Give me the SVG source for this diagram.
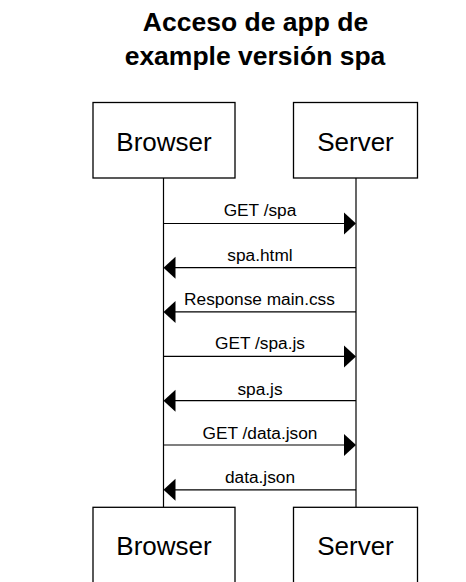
<svg xmlns="http://www.w3.org/2000/svg" width="466" height="582" viewBox="0 0 466 582">
<style>
.actor{fill:#fff;stroke:#000;stroke-width:1.3}
.atext{font-family:"Liberation Sans",Arial,sans-serif;font-size:26px;fill:#000;text-anchor:middle}
.life{stroke:#000;stroke-width:1.2}
.msg{stroke:#000;stroke-width:1.2;fill:none}
.mtext{font-family:"Liberation Sans",Arial,sans-serif;font-size:17.3px;fill:#000;text-anchor:middle}
.title{font-family:"Liberation Sans",Arial,sans-serif;font-size:26.5px;font-weight:bold;fill:#000;text-anchor:middle}
.head{fill:#000}
</style>
<rect width="466" height="582" fill="#fff"/>
<g id="title">
<text class="title" x="255.5" y="30.7">Acceso de app de</text>
<text class="title" x="255" y="65">example versión spa</text>
</g>
<g id="lifelines">
<line class="life" x1="163.5" y1="178" x2="163.5" y2="507"/>
<line class="life" x1="356" y1="178" x2="356" y2="507"/>
</g>
<g id="browser-top">
<rect class="actor" x="93" y="102.5" width="142" height="75.5"/>
<text class="atext" x="164" y="150.7">Browser</text>
</g>
<g id="server-top">
<rect class="actor" x="293.5" y="102.5" width="124" height="75.5"/>
<text class="atext" x="355.5" y="150.7">Server</text>
</g>
<g id="browser-bottom">
<rect class="actor" x="93" y="507.3" width="142" height="76"/>
<text class="atext" x="164" y="555.3">Browser</text>
</g>
<g id="server-bottom">
<rect class="actor" x="293.5" y="507.3" width="124" height="76"/>
<text class="atext" x="355.5" y="555.3">Server</text>
</g>
<g id="connectors">
<line class="msg" x1="163.5" y1="223.5" x2="345" y2="223.5"/>
<polygon class="head" points="356,223.5 344,212.5 344,234.5"/>
<text class="mtext" x="260" y="216">GET /spa</text>

<line class="msg" x1="356" y1="267.7" x2="175" y2="267.7"/>
<polygon class="head" points="163.5,267.7 175.5,256.7 175.5,278.7"/>
<text class="mtext" x="260" y="260.7">spa.html</text>

<line class="msg" x1="356" y1="311.9" x2="175" y2="311.9"/>
<polygon class="head" points="163.5,311.9 175.5,300.9 175.5,322.9"/>
<text class="mtext" x="259.5" y="305">Response main.css</text>

<line class="msg" x1="163.5" y1="356.4" x2="345" y2="356.4"/>
<polygon class="head" points="356,356.4 344,345.4 344,367.4"/>
<text class="mtext" x="260" y="349.3">GET /spa.js</text>

<line class="msg" x1="356" y1="400.7" x2="175" y2="400.7"/>
<polygon class="head" points="163.5,400.7 175.5,389.7 175.5,411.7"/>
<text class="mtext" x="260" y="394.5">spa.js</text>

<line class="msg" x1="163.5" y1="445" x2="345" y2="445"/>
<polygon class="head" points="356,445 344,434 344,456"/>
<text class="mtext" x="260" y="439">GET /data.json</text>

<line class="msg" x1="356" y1="489.8" x2="175" y2="489.8"/>
<polygon class="head" points="163.5,489.8 175.5,478.8 175.5,500.8"/>
<text class="mtext" x="260" y="483.3">data.json</text>
</g>
</svg>
